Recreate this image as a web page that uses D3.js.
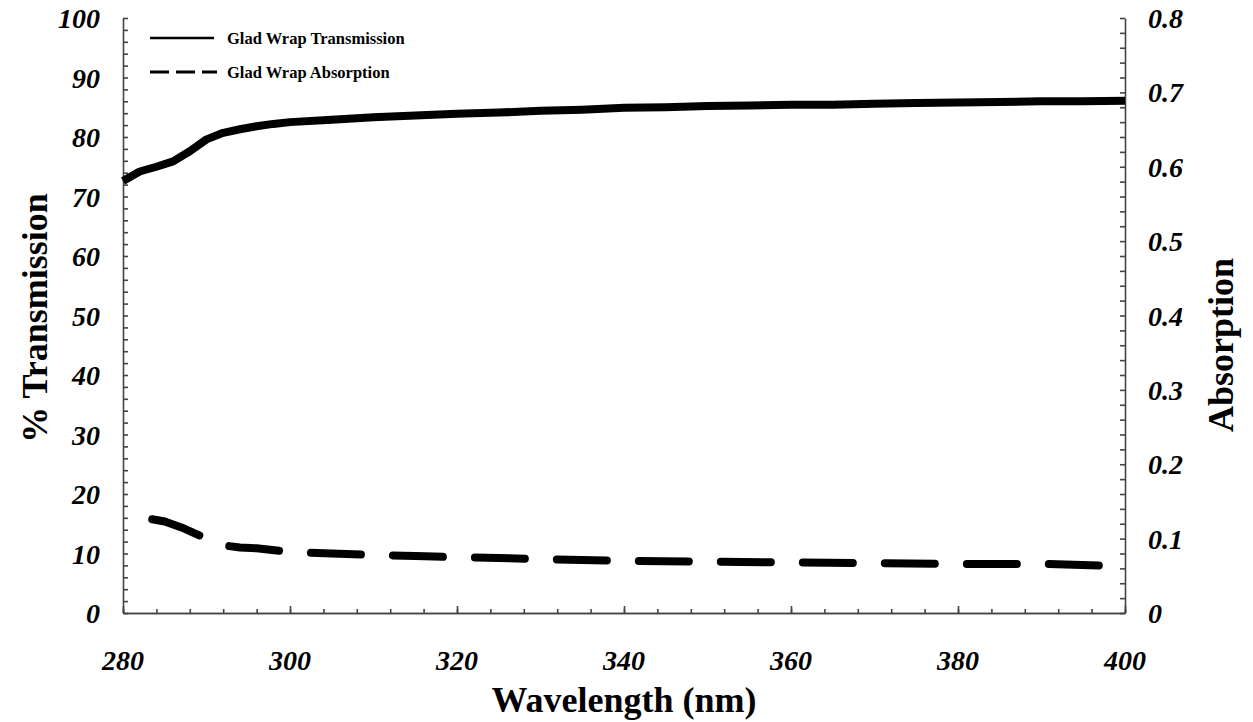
<!DOCTYPE html>
<html>
<head>
<meta charset="utf-8">
<script src="https://d3js.org/d3.v7.min.js"></script>
<style>
body{margin:0;background:#fff;}
svg{display:block;}
</style>
</head>
<body>
<svg id="chart" width="1253" height="722"></svg>
<script>
// transmission spectrum (left axis, %)
var waveT = [280,282,284,286,288,290,292,294,296,298,300,305,310,315,320,325,330,335,340,345,350,355,360,365,370,375,380,385,390,395,400];
var transmission = [72.6,74.2,75.0,75.9,77.6,79.6,80.7,81.3,81.8,82.2,82.5,82.9,83.3,83.6,83.9,84.1,84.4,84.6,84.9,85.0,85.2,85.3,85.4,85.4,85.6,85.7,85.8,85.9,86.0,86.0,86.1];

// absorption spectrum (right axis)
var waveA = [283.5,285,287,289,290,292,294,296,300,305,310,315,320,325,330,340,350,360,370,380,390,400];
var absorption = [0.126,0.123,0.115,0.105,0.100,0.091,0.088,0.087,0.082,0.080,0.078,0.0765,0.075,0.074,0.0725,0.0703,0.069,0.068,0.067,0.066,0.066,0.063];

var xTicks = [280,300,320,340,360,380,400];
var yLeftTicks = [0,10,20,30,40,50,60,70,80,90,100];
var yRightTicks = [0,0.1,0.2,0.3,0.4,0.5,0.6,0.7,0.8];

var svg = d3.select("#chart");
var plotLeft = 123, plotRight = 1125, plotTop = 18, plotBottom = 613;

var x = d3.scaleLinear().domain([280,400]).range([plotLeft,plotRight]);
var yL = d3.scaleLinear().domain([0,100]).range([plotBottom,plotTop]);
var yR = d3.scaleLinear().domain([0,0.8]).range([plotBottom,plotTop]);

var font = "'Liberation Serif','Times New Roman',serif";
var axisColor = "#444";

function styleAxis(g){
	g.selectAll("path,line").attr("stroke",axisColor).attr("stroke-width",1.6);
	g.selectAll("text").remove();
}

// x axis: minor ticks, then major
svg.append("g").attr("transform","translate(0,"+plotBottom+")")
	.call(d3.axisBottom(x).tickValues(d3.range(280,401,4)).tickSize(-4).tickSizeOuter(0))
	.call(styleAxis);
svg.append("g").attr("transform","translate(0,"+plotBottom+")")
	.call(d3.axisBottom(x).tickValues(xTicks).tickSize(-7).tickSizeOuter(0))
	.call(styleAxis);

// left axis
svg.append("g").attr("transform","translate("+plotLeft+",0)")
	.call(d3.axisLeft(yL).tickValues(d3.range(0,101,2)).tickSize(-5).tickSizeOuter(0))
	.call(styleAxis);
// right axis
svg.append("g").attr("transform","translate("+plotRight+",0)")
	.call(d3.axisRight(yR).tickValues(d3.range(0,41).map(function(i){return i*0.02;})).tickSize(-5).tickSizeOuter(0))
	.call(styleAxis);

// tick labels
function tickStyle(sel){
	sel.style("font-family",font).style("font-size","28px").style("font-weight","bold").style("font-style","italic");
}
svg.append("g").selectAll("text").data(xTicks).enter().append("text")
	.attr("x",function(d){return x(d);}).attr("y",670)
	.attr("text-anchor","middle")
	.call(tickStyle)
	.text(function(d){return d;});

svg.append("g").selectAll("text").data(yLeftTicks).enter().append("text")
	.attr("x",100).attr("y",function(d){return yL(d)+10;})
	.attr("text-anchor","end")
	.call(tickStyle)
	.text(function(d){return d;});

svg.append("g").selectAll("text").data(yRightTicks).enter().append("text")
	.attr("x",1148).attr("y",function(d){return yR(d)+10;})
	.attr("text-anchor","start")
	.call(tickStyle)
	.text(function(d){return d;});

// axis titles
function titleStyle(sel){
	sel.style("font-family",font).style("font-size","36px").style("font-weight","bold");
}
svg.append("text").attr("x",624).attr("y",712).attr("text-anchor","middle")
	.call(titleStyle)
	.text("Wavelength (nm)");
svg.append("text").attr("transform","translate(47,318) rotate(-90)").attr("text-anchor","middle")
	.call(titleStyle)
	.text("% Transmission");
svg.append("text").attr("transform","translate(1233,345) rotate(-90)").attr("text-anchor","middle")
	.call(titleStyle)
	.text("Absorption");

// lines
var lineT = d3.line().x(function(d,i){return x(waveT[i]);}).y(function(d){return yL(d);});
var lineA = d3.line().x(function(d,i){return x(waveA[i]);}).y(function(d){return yR(d);});

svg.append("path").datum(transmission).attr("d",lineT)
	.attr("fill","none").attr("stroke","#000").attr("stroke-width",8).attr("stroke-linejoin","round");
svg.append("path").datum(absorption).attr("d",lineA)
	.attr("fill","none").attr("stroke","#000").attr("stroke-width",8)
	.attr("stroke-linecap","round").attr("stroke-linejoin","round").attr("stroke-dasharray","50,32");

// legend
var legend = svg.append("g");
legend.append("line").attr("x1",150).attr("x2",214).attr("y1",38).attr("y2",38).attr("stroke","#000").attr("stroke-width",2.5);
legend.append("line").attr("x1",150).attr("x2",217).attr("y1",72).attr("y2",72).attr("stroke","#000").attr("stroke-width",3).attr("stroke-dasharray","19,7");
legend.append("text").attr("x",227).attr("y",44).style("font-family",font).style("font-size","16.5px").style("font-weight","bold").text("Glad Wrap Transmission");
legend.append("text").attr("x",227).attr("y",78).style("font-family",font).style("font-size","16.5px").style("font-weight","bold").text("Glad Wrap Absorption");
</script>
</body>
</html>
